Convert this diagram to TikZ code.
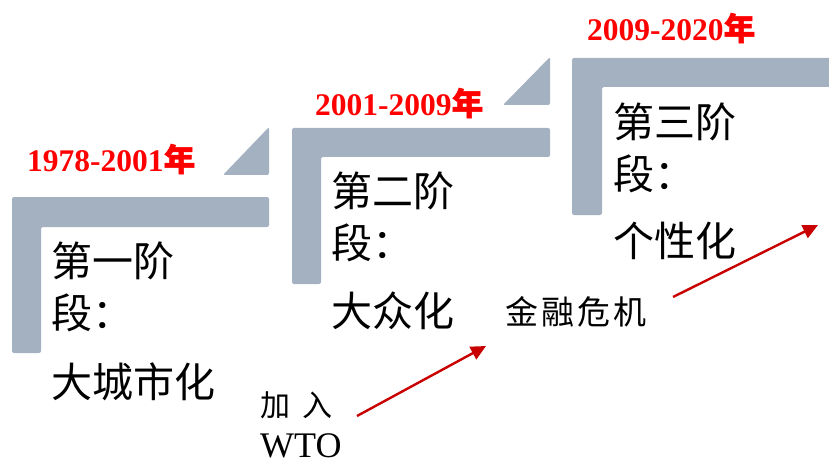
\documentclass[tikz,border=0pt]{standalone}
\usepackage{fontspec}
\setmainfont{Liberation Serif}
\newfontfamily\cjk{Noto Sans CJK SC}
\newfontfamily\cjkb{Noto Sans CJK SC}[FakeBold=1.5]
\usetikzlibrary{arrows.meta}
\definecolor{barblue}{RGB}{163,177,193}
\definecolor{yearred}{RGB}{255,0,0}
\definecolor{arrowred}{RGB}{200,0,0}
\tikzset{
  bar/.style={fill=barblue, draw=none, rounded corners=2pt},
  yearlabel/.style={anchor=west, inner sep=0pt, text=yearred, font=\fontsize{31.5}{33}\selectfont\bfseries},
  stagetext/.style={anchor=west, inner sep=0pt, font=\cjk\fontsize{41}{44}\selectfont},
  smalltext/.style={anchor=west, inner sep=0pt, font=\cjk\fontsize{30}{32}\selectfont},
  eventarrow/.style={draw=arrowred, line width=2.4pt, -{Triangle[length=15pt,width=14pt]}}
}
\begin{document}
\begin{tikzpicture}[x=1pt,y=-1pt]
\useasboundingbox (0,0) rectangle (829,465);
% stage 1
\fill[bar] (12,197) -- (269,197) -- (269,227) -- (41,227) -- (41,353) -- (12,353) -- cycle;
\fill[bar] (269,127) -- (269,175) -- (223,175) -- cycle;
% stage 2
\fill[bar] (292,128) -- (550,128) -- (550,157) -- (321,157) -- (321,284) -- (292,284) -- cycle;
\fill[bar] (550,57) -- (550,105) -- (503,105) -- cycle;
% stage 3
\fill[bar] (572,58) -- (835,58) -- (835,87) -- (602,87) -- (602,215) -- (572,215) -- cycle;

% year labels
\node[yearlabel] (y1) at (27,159) {1978-2001{\cjkb 年}};
\node[yearlabel] (y2) at (315,103) {2001-2009{\cjkb 年}};
\node[yearlabel] (y3) at (587,28) {2009-2020{\cjkb 年}};

% stage texts
\node[stagetext] (s1a) at (51,261) {第一阶};
\node[stagetext] (s1b) at (51,313) {段：};
\node[stagetext] (s1c) at (51,382) {大城市化};
\node[stagetext] (s2a) at (331,191) {第二阶};
\node[stagetext] (s2b) at (331,243) {段：};
\node[stagetext] (s2c) at (331,311) {大众化};
\node[stagetext] (s3a) at (613,122) {第三阶};
\node[stagetext] (s3b) at (613,174) {段：};
\node[stagetext] (s3c) at (613,241) {个性化};

% events
\node[smalltext] (wto1) at (260,405) {加\hspace{12pt}入};
\node[anchor=west, inner sep=0pt, font=\fontsize{36}{38}\selectfont] (wto2) at (260,446) {WTO};
\node[smalltext, font=\cjk\fontsize{33}{34}\selectfont] (crisis) at (505,312) {金\hspace{3pt}融\hspace{3pt}危\hspace{3pt}机};

\coordinate (a1s) at (357,416);
\coordinate (a1e) at (486,346);
\coordinate (a2s) at (673,297);
\coordinate (a2e) at (818,225);
\draw[eventarrow] (a1s) -- (a1e);
\draw[eventarrow] (a2s) -- (a2e);
\end{tikzpicture}
\end{document}
